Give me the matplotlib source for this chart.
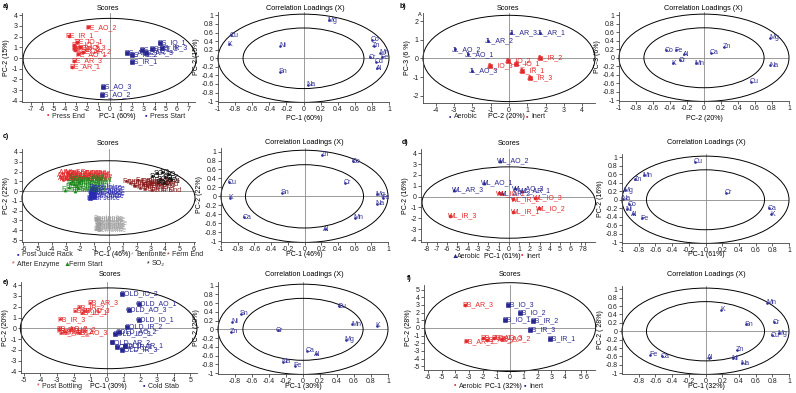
import matplotlib
matplotlib.use("Agg")
import matplotlib.pyplot as plt
from matplotlib.patches import Ellipse

plt.rcParams["font.family"] = ["Liberation Sans", "DejaVu Sans"]
plt.rcParams["axes.unicode_minus"] = False

W, H = 796, 393
RED, BLUE = "#e3292b", "#27278f"
GREEN, DRED, GREY, BLACK = "#1e8a1e", "#8c1c1c", "#a0a0a0", "#111111"
LBLUE = "#34349a"
FS = 5

# ---------------- data ----------------
# a) scores
a_end_lab = ["PE_AO_2", "PE_IR_1", "PE_IO_1", "PE_IO_2", "PE_IR_3", "PE_IR_2",
             "PE_AO_1", "PE_AR_3", "PE_AR_1", "PE_IO_3", "PE_AR_2"]
a_end_x = [-1.9, -3.65, -2.9, -3.2, -3.2, -3.05, -2.8, -3.2, -3.35, -2.6, -2.4]
a_end_y = [2.85, 2.1, 1.5, 1.2, 0.9, 0.75, 0.35, -0.3, -0.8, 1.0, 0.6]
a_sta_lab = ["PS_IO_1", "PS_IR_3", "PS_IO_3", "PS_AR_1", "PS_AR_2", "PS_IO_2",
             "PS_AR_3", "PS_IR_1", "PS_AO_3", "PS_AO_2"]
a_sta_x = [4.5, 4.65, 3.8, 2.9, 1.55, 2.0, 3.2, 2.0, -0.55, -0.7]
a_sta_y = [1.4, 0.95, 0.85, 0.75, 0.45, 0.3, 0.45, -0.35, -2.7, -3.45]

# b) scores
b_aer_lab = ["JL_AR_3", "JL_AR_1", "JL_AR_2", "JL_AO_2", "JL_AO_1", "JL_AO_3"]
b_aer_x = [0.13, 1.68, -1.15, -2.97, -2.24, -2.02]
b_aer_y = [1.36, 1.36, 0.96, 0.49, 0.22, -0.67]
b_ine_lab = ["JL_IR_2", "JL_IO_2", "JL_IO_3", "JL_IO_1", "JL_IR_1", "JL_IR_3"]
b_ine_x = [1.68, -0.05, -1.05, 0.4, 0.71, 1.13]
b_ine_y = [0.05, -0.13, -0.4, -0.29, -0.65, -1.05]

# c) scores (one label per group)
c_enz_x = [-3.45, -3.3, -3.1, -2.95, -2.8, -2.65, -2.5, -3.2, -2.9, -2.6, -3.35, -2.75]
c_enz_y = [1.55, 1.85, 1.35, 1.95, 1.6, 1.8, 1.45, 1.15, 1.2, 1.25, 1.3, 1.7]
c_fs_x = [-3.05, -2.8, -2.6, -2.45, -2.3, -2.2, -2.05, -2.5, -2.75, -2.15, -2.35, -1.95]
c_fs_y = [0.15, 0.45, 1.0, 0.7, 1.2, 0.55, 0.9, 1.35, 0.8, 0.3, 0.05, 1.1]
c_pj_x = [-1.3, -1.2, -1.1, -1.0, -0.95, -1.15, -1.25, -1.05]
c_pj_y = [-0.75, -0.45, 0.0, -0.2, 0.25, 0.35, -0.1, -0.6]
c_fe_x = [1.2, 1.5, 1.8, 2.1, 2.4, 2.7, 3.0, 2.2, 2.6, 1.9, 2.9, 3.1]
c_fe_y = [1.0, 0.85, 0.65, 1.1, 0.75, 0.55, 0.95, 0.35, 0.2, 0.5, 0.7, 0.1]
c_so_x = [3.1, 3.4, 3.6, 3.8, 4.0, 4.2, 4.4, 3.5, 3.9, 4.3]
c_so_y = [1.5, 1.8, 1.2, 1.9, 1.4, 1.7, 1.1, 0.9, 0.8, 1.3]
c_be_x = [-0.9, -0.85, -0.8, -0.75, -0.7, -0.65, -0.85, -0.7, -0.6, -0.8]
c_be_y = [-2.75, -3.0, -3.25, -3.5, -3.75, -4.0, -3.9, -2.9, -3.3, -3.6]

# d) scores
d_aer_lab = ["WL_AO_2", "WL_AO_1", "WL_AR_3", "WL_AO_3", "WL_AR_1", "WL_AR_2"]
d_aer_x = [-0.85, -2.4, -5.3, 0.6, 1.3, -0.7]
d_aer_y = [3.3, 1.3, 0.6, 0.75, 0.5, 0.3]
d_ine_lab = ["WL_IO_1", "WL_IR_2", "WL_IO_3", "WL_IO_2", "WL_IR_1", "WL_IR_3"]
d_ine_x = [-1.0, 0.45, 2.6, 2.9, 0.45, -5.7]
d_ine_y = [0.3, -0.25, -0.1, -1.1, -1.4, -1.75]

# e) scores
e_pb_lab = ["PB_AR_3", "PB_IR_2", "PB_IR_1", "PB_IO_3", "PB_IO_1", "PB_IR_3",
            "PB_AO_2", "PB_AO_1", "PB_AR_1", "PB_AR_2", "PB_IO_2", "PB_AO_3"]
e_pb_x = [-1.04, -1.7, -1.9, -1.4, -1.5, -2.8, -2.9, -2.85, -2.75, -2.5, -2.2, -1.7]
e_pb_y = [2.37, 1.94, 1.63, 1.6, 1.45, 0.83, 0.0, -0.2, -0.4, -0.3, -0.15, -0.4]
e_cs_lab = ["COLD_IO_2", "COLD_AO_1", "COLD_AO_3", "COLD_IO_1", "COLD_IR_2", "COLD_AO_2",
            "COLD_AR_2", "COLD_IR_1", "COLD_IR_3", "COLD_AR_1", "COLD_IO_3"]
e_cs_x = [0.9, 1.9, 1.3, 1.9, 1.2, 0.7, 0.3, 0.6, 0.9, 1.1, 0.5]
e_cs_y = [3.17, 2.3, 1.7, 0.77, 0.1, -0.35, -1.3, -1.75, -2.0, -1.6, -0.5]

# f) scores
f_aer_lab = ["PB_AR_3", "PB_AO_1", "PB_AO_3", "PB_AO_2", "PB_AR_1", "PB_AR_2"]
f_aer_x = [-3.3, -2.0, -1.2, -0.6, -3.2, -1.7]
f_aer_y = [3.04, -1.35, -1.3, -1.45, -1.75, -1.6]
f_ine_lab = ["PB_IO_3", "PB_IO_2", "PB_IO_1", "PB_IR_2", "PB_IR_3", "PB_IR_1"]
f_ine_x = [-0.15, 0.7, -0.4, 1.68, 1.44, 2.9]
f_ine_y = [3.04, 1.96, 1.09, 0.87, -0.22, -1.48]

# correlation loadings
la_names = ["Mg", "Cu", "K", "Ni", "Sn", "Na", "Co", "Zn", "Mn", "Fe", "Cr", "Cd", "Al"]
la_x = [0.30, -0.85, -0.87, -0.27, -0.27, 0.05, 0.80, 0.82, 0.90, 0.92, 0.78, 0.85, 0.86]
la_y = [0.89, 0.54, 0.33, 0.29, -0.31, -0.62, 0.43, 0.29, 0.13, 0.02, 0.02, -0.08, -0.23]

lb_names = ["Mg", "Na", "Cu", "Zn", "Ca", "Mn", "Co", "Fe", "Al", "Cr", "K"]
lb_x = [0.78, 0.78, 0.55, 0.24, 0.08, -0.10, -0.45, -0.33, -0.23, -0.28, -0.37]
lb_y = [0.47, -0.18, -0.56, 0.26, 0.12, -0.13, 0.18, 0.18, 0.08, -0.06, -0.13]

lc_names = ["Zn", "Co", "Cu", "K", "Sn", "Cr", "Mg", "Fe", "Na", "Ca", "Mn", "Al"]
lc_x = [0.21, 0.58, -0.91, -0.89, -0.27, 0.49, 0.87, 0.94, 0.87, -0.73, 0.60, 0.24]
lc_y = [0.93, 0.78, 0.32, -0.03, 0.08, 0.30, 0.05, -0.03, -0.16, -0.47, -0.48, -0.74]

ld_names = ["Cu", "Zn", "Mn", "Mg", "Na", "Co", "Ni", "Al", "Fe", "Cr", "Ca", "K"]
ld_x = [-0.13, -0.84, -0.74, -0.97, -0.99, -0.92, -0.94, -0.87, -0.76, 0.24, 0.76, 0.79]
ld_y = [0.90, 0.49, 0.58, 0.23, 0.02, -0.10, -0.22, -0.34, -0.44, 0.17, -0.20, -0.34]

le_names = ["Sn", "Ni", "Zn", "Cr", "Cu", "Mn", "K", "Mg", "Ca", "Al", "Na", "Fe"]
le_x = [-0.73, -0.83, -0.85, -0.30, 0.42, 0.58, 0.87, 0.50, 0.05, 0.15, -0.24, -0.10]
le_y = [0.35, 0.17, -0.06, -0.02, 0.53, 0.11, 0.08, -0.24, -0.49, -0.57, -0.74, -0.83]

lf_names = ["K", "Mn", "Sn", "Cr", "Cu", "Mg", "Zn", "Al", "Ni", "Na", "Fe", "Ca"]
lf_x = [0.19, 0.74, 0.48, 0.82, 0.80, 0.88, 0.38, 0.04, 0.33, 0.44, -0.66, -0.52]
lf_y = [0.51, 0.68, 0.17, 0.21, -0.09, -0.05, -0.44, -0.63, -0.64, -0.76, -0.56, -0.60]

LOAD_TICKS = [-1, -0.8, -0.6, -0.4, -0.2, 0, 0.2, 0.4, 0.6, 0.8, 1]

# ---------------- drawing ----------------
fig = plt.figure(figsize=(W / 100, H / 100), dpi=100)


def ftext(x, y, s, **kw):
    kw.setdefault("fontsize", FS)
    kw.setdefault("va", "center")
    fig.text(x / W, 1 - y / H, s, **kw)


def new_ax(l, t, r, b):
    ax = fig.add_axes([l / W, 1 - b / H, (r - l) / W, (b - t) / H])
    for s in ("top", "right"):
        ax.spines[s].set_visible(False)
    for s in ("left", "bottom"):
        ax.spines[s].set_linewidth(0.6)
        ax.spines[s].set_color("#444444")
    ax.tick_params(labelsize=FS, length=2, width=0.5, pad=1, colors="#222222")
    ax.patch.set_alpha(0)
    return ax


def frame(ax, xlim, ylim, xticks, yticks, ellipses, ylabel, xticklabels=None):
    ax.set_xlim(xlim)
    ax.set_ylim(ylim)
    ax.axhline(0, color="#8a8a8a", lw=0.6, zorder=0)
    ax.axvline(0, color="#8a8a8a", lw=0.6, zorder=0)
    for cx, cy, w, h in ellipses:
        ax.add_patch(Ellipse((cx, cy), w, h, fill=False, lw=0.7, ec="black", clip_on=False))
    ax.set_xticks(xticks)
    ax.set_xticklabels(xticklabels or [f"{v:g}" for v in xticks])
    ax.set_yticks(yticks)
    ax.set_yticklabels([f"{v:g}" for v in yticks])
    ax.set_ylabel(ylabel, fontsize=FS, labelpad=1)


def group(ax, xs, ys, labels, color, marker, ms=2.2):
    ax.plot(xs, ys, ls="none", marker=marker, ms=ms, color=color, mew=0.4)
    for x, y, s in zip(xs, ys, labels):
        ax.annotate(s, (x, y), xytext=(-2, 0), textcoords="offset points",
                    color=color, fontsize=FS, ha="left", va="center")


def loads(ax, names, xs, ys):
    ax.plot(xs, ys, ls="none", marker="o", ms=0.9, color=LBLUE)
    for n, x, y in zip(names, xs, ys):
        ax.annotate(n, (x, y), xytext=(-1, 0), textcoords="offset points",
                    color=LBLUE, fontsize=FS, ha="left", va="center")


def legend_item(x, y, sym, color, label):
    ftext(x, y, sym, color=color, ha="left")
    ftext(x + 5, y, label, ha="left", color="#222222")


def loadings_panel(rect, names, xs, ys, xlabel, ylabel, xticks, title_xy, xlab_xy):
    ax = new_ax(*rect)
    frame(ax, (-1.0, 1.0), (-1.02, 1.08), xticks, LOAD_TICKS,
          [(0, 0, 2.0, 2.06), (0, 0, 1.414, 1.414)], ylabel)
    loads(ax, names, xs, ys)
    ftext(title_xy[0], title_xy[1], "Correlation Loadings (X)", ha="center", fontsize=5.2)
    ftext(xlab_xy[0], xlab_xy[1], xlabel, ha="center")
    return ax


# ---- a) ----
ax = new_ax(22, 13, 195, 102)
frame(ax, (-7.8, 7.6), (-4.1, 4.2), list(range(-7, 8)), list(range(-4, 5)),
      [(0, -0.1, 15.4, 7.6)], "PC-2 (15%)")
group(ax, a_end_x, a_end_y, a_end_lab, RED, "o")
group(ax, a_sta_x, a_sta_y, a_sta_lab, BLUE, "s")
ftext(108, 8, "Scores", ha="center", fontsize=5.2)
legend_item(47, 116, "•", RED, "Press End")
ftext(117, 116, "PC-1 (60%)", ha="center")
legend_item(145, 116, "▪", BLUE, "Press Start")
ftext(3, 7, "a)", fontweight="bold", ha="left")

loadings_panel((218, 12, 389, 102), la_names, la_x, la_y, "PC-1 (60%)", "PC-2 (15%)",
               LOAD_TICKS, (305, 8), (304, 118))

# ---- b) ----
ax = new_ax(423, 13, 595, 103)
frame(ax, (-4.7, 4.7), (-2.4, 2.45), list(range(-4, 5)), list(range(-2, 3)),
      [(0, 0, 9.4, 4.65)], "PC-3 (6 %)")
group(ax, b_aer_x, b_aer_y, b_aer_lab, BLUE, "o", ms=1.6)
group(ax, b_ine_x, b_ine_y, b_ine_lab, RED, "s")
ftext(508, 8, "Scores", ha="center", fontsize=5.2)
ftext(418, 15, "A", ha="left", fontsize=4)
legend_item(449, 117, "•", BLUE, "Aerobic")
ftext(506, 117, "PC-2 (20%)", ha="center")
legend_item(526, 117, "▪", RED, "Inert")
ftext(400, 7, "b)", fontweight="bold", ha="left")

loadings_panel((619, 12, 789, 101), lb_names, lb_x, lb_y, "PC-2 (20%)", "PC-3 (6%)",
               LOAD_TICKS, (703, 8), (704, 118))

# ---- c) ----
ax = new_ax(22, 149, 195, 242)
frame(ax, (-6.1, 6.1), (-5.2, 4.3), list(range(-6, 7)), list(range(-5, 5)),
      [(0, -0.7, 12.2, 7.6)], "PC-2 (22%)")
group(ax, c_enz_x, c_enz_y, ["After Enzyme"] * len(c_enz_x), RED, "*")
group(ax, c_fs_x, c_fs_y, ["Ferm Start"] * len(c_fs_x), GREEN, "^")
group(ax, c_pj_x, c_pj_y, ["Post Juice"] * len(c_pj_x), "#2a2ab0", "s")
group(ax, c_fe_x, c_fe_y, ["Ferm End"] * len(c_fe_x), DRED, "*")
group(ax, c_so_x, c_so_y, ["SO₂"] * len(c_so_x), BLACK, "*")
group(ax, c_be_x, c_be_y, ["Bentonite"] * len(c_be_x), GREY, "*")
ftext(108, 144, "Scores", ha="center", fontsize=5.2)
legend_item(17, 255, "▪", "#2a2ab0", "Post Juice Rack")
ftext(112, 255, "PC-1 (46%)", ha="center")
legend_item(131, 255, "*", GREY, "Bentonite")
legend_item(167, 255, "*", DRED, "Ferm End")
legend_item(12, 264, "*", RED, "After Enzyme")
legend_item(64, 264, "▲", GREEN, "Ferm Start")
legend_item(147, 264, "*", BLACK, "SO₂")
ftext(3, 136, "c)", fontweight="bold", ha="left")

loadings_panel((221, 148, 388, 242), lc_names, lc_x, lc_y, "PC-1 (46%)", "PC-2 (22%)",
               LOAD_TICKS, (304, 143), (304, 255))

# ---- d) ----
ax = new_ax(421, 149, 595, 242)
frame(ax, (-8.55, 8.4), (-4.2, 4.4), list(range(-8, 7)) + [7.0, 7.4], list(range(-4, 5)),
      [(0, -0.55, 16.9, 6.6)], "PC-2 (16%)",
      xticklabels=[str(v) for v in range(-8, 7)] + ["7", "8"])
group(ax, d_aer_x, d_aer_y, d_aer_lab, BLUE, "^")
group(ax, d_ine_x, d_ine_y, d_ine_lab, RED, "o")
ftext(509, 144, "Scores", ha="center", fontsize=5.2)
legend_item(452, 256, "▲", BLUE, "Aerobic")
ftext(502, 256, "PC-1 (61%)", ha="center")
legend_item(521, 256, "•", RED, "Inert")
ftext(402, 143, "d)", fontweight="bold", ha="left")

loadings_panel((622, 154, 789, 243), ld_names, ld_x, ld_y, "PC-1 (61%)", "PC-2 (16%)",
               LOAD_TICKS, (706, 143), (706, 255))

# ---- e) ----
ax = new_ax(21, 282, 197, 373)
frame(ax, (-5.16, 5.4), (-4.15, 4.3), list(range(-5, 6)), list(range(-4, 5)),
      [(0.1, 0.0, 10.6, 7.5)], "PC-2 (20%)")
group(ax, e_pb_x, e_pb_y, e_pb_lab, RED, "*")
group(ax, e_cs_x, e_cs_y, e_cs_lab, BLUE, "s")
ftext(110, 275, "Scores", ha="center", fontsize=5.2)
legend_item(37, 386, "*", RED, "Post Bottling")
ftext(108, 386, "PC-1 (30%)", ha="center")
legend_item(143, 386, "▪", BLUE, "Cold Stab")
ftext(3, 282, "e)", fontweight="bold", ha="left")

loadings_panel((218, 282, 388, 374), le_names, le_x, le_y, "PC-1 (30%)", "PC-2 (20%)",
               LOAD_TICKS[1:], (304, 275), (303, 386))

# ---- f) ----
ax = new_ax(424, 285, 595, 370)
frame(ax, (-6.3, 6.2), (-5.5, 5.6), list(range(-6, 5)) + [5.15, 5.55], list(range(-5, 6)),
      [(0, 0.1, 12.5, 11.6)], "PC-2 (28%)",
      xticklabels=[str(v) for v in range(-6, 5)] + ["5", "6"])
group(ax, f_aer_x, f_aer_y, f_aer_lab, RED, "o")
group(ax, f_ine_x, f_ine_y, f_ine_lab, BLUE, "s")
ftext(510, 275, "Scores", ha="center", fontsize=5.2)
legend_item(454, 386, "•", RED, "Aerobic")
ftext(503, 386, "PC-1 (32%)", ha="center")
legend_item(524, 386, "▪", BLUE, "Inert")
ftext(407, 278, "f)", fontweight="bold", ha="left")

loadings_panel((622, 286, 789, 374), lf_names, lf_x, lf_y, "PC-1 (32%)", "PC-2 ( 28%)",
               LOAD_TICKS[1:], (706, 275), (706, 387))

fig.savefig("out.png", dpi=100)
